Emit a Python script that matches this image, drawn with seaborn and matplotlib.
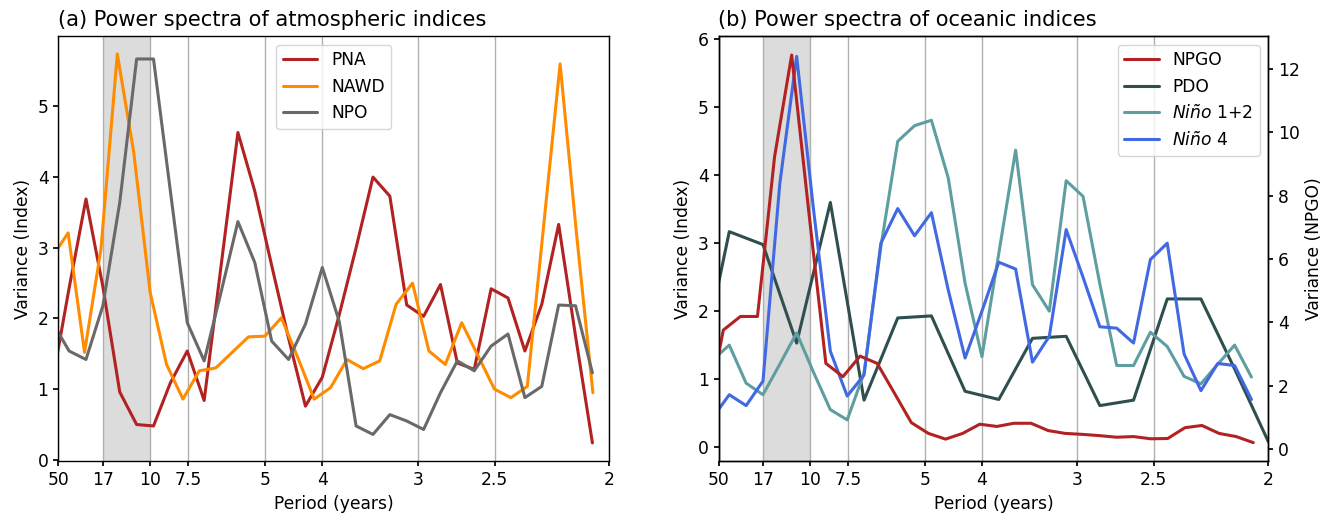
import numpy as np
import pandas as pd
import matplotlib
matplotlib.use("Agg")
import matplotlib.pyplot as plt
import seaborn as sns

# ---------------- data (variance per spectral estimate) ----------------
# record lengths defining the frequency grids (cycles per year = k / N)
n_atm = 68      # PNA, NPO, Nino indices
n_nawd = 70     # NAWD
n_pdo = 34      # PDO (coarser spectrum)
n_npgo = 67     # NPGO
npgo_offset = 0.62

pna = [1.09, 2.43, 3.69, 2.45, 0.96, 0.50, 0.48, 1.09, 1.54, 0.84, 2.74, 4.63,
       3.80, 2.75, 1.72, 0.76, 1.17, 2.05, 3.00, 4.00, 3.73, 2.19, 2.03, 2.48,
       1.37, 1.28, 2.42, 2.29, 1.54, 2.20, 3.33, 1.75, 0.24]
nawd = [2.86, 3.21, 1.52, 2.98, 5.74, 4.35, 2.37, 1.35, 0.86, 1.26, 1.30, 1.52,
        1.74, 1.75, 2.01, 1.45, 0.86, 1.02, 1.42, 1.29, 1.40, 2.20, 2.50, 1.54,
        1.35, 1.94, 1.47, 1.00, 0.88, 1.04, 3.32, 5.60, 3.20, 0.95]
npo = [1.95, 1.54, 1.42, 2.18, 3.64, 5.67, 5.67, 3.80, 1.94, 1.40, 2.37, 3.37,
       2.79, 1.68, 1.42, 1.92, 2.72, 1.96, 0.48, 0.36, 0.64, 0.55, 0.43, 0.95,
       1.40, 1.26, 1.61, 1.78, 0.88, 1.04, 2.19, 2.18, 1.23]

npgo = [0.97, 3.76, 4.19, 4.19, 9.23, 12.44, 7.50, 2.71, 2.29, 2.94, 2.71, 1.78,
        0.84, 0.50, 0.32, 0.50, 0.79, 0.72, 0.82, 0.82, 0.59, 0.50, 0.47, 0.43,
        0.38, 0.40, 0.33, 0.34, 0.68, 0.75, 0.50, 0.40, 0.21]
pdo = [0.79, 3.17, 2.98, 1.53, 3.60, 0.69, 1.90, 1.93, 0.82, 0.70, 1.60, 1.63,
       0.61, 0.69, 2.18, 2.18, 1.15, 0.08]
nino12 = [1.28, 1.50, 0.94, 0.77, 1.22, 1.68, 1.10, 0.55, 0.40, 1.09, 2.95, 4.50,
          4.73, 4.81, 3.96, 2.41, 1.33, 2.85, 4.37, 2.39, 2.00, 3.92, 3.69, 2.40,
          1.20, 1.20, 1.69, 1.48, 1.04, 0.93, 1.22, 1.50, 1.03]
nino4 = [0.43, 0.77, 0.61, 0.97, 3.88, 5.75, 3.50, 1.41, 0.75, 1.06, 3.00, 3.51,
         3.11, 3.45, 2.31, 1.31, 2.00, 2.72, 2.62, 1.25, 1.63, 3.20, 2.50, 1.77,
         1.75, 1.53, 2.76, 3.00, 1.37, 0.83, 1.23, 1.20, 0.70]

period_ticks = [50, 17, 10, 7.5, 5, 4, 3, 2.5, 2]
period_labels = ["50", "17", "10", "7.5", "5", "4", "3", "2.5", "2"]
band_periods = (17, 10)

titles = ["(a) Power spectra of atmospheric indices",
          "(b) Power spectra of oceanic indices"]

# frequency grids
f_atm = np.arange(1, len(pna) + 1) / n_atm
f_nawd = np.arange(1, len(nawd) + 1) / n_nawd
f_oce = np.arange(1, len(nino4) + 1) / n_atm
f_pdo = np.arange(0, len(pdo)) / n_pdo
f_npgo = (np.arange(len(npgo)) + npgo_offset) / n_npgo

# ---------------- style ----------------
sns.set_theme(style="ticks")
FS = 12.3
plt.rcParams.update({
    "font.family": ["DejaVu Sans"],
    "font.size": FS,
    "text.color": "black",
    "axes.labelcolor": "black",
    "axes.titlecolor": "black",
    "axes.edgecolor": "black",
    "axes.linewidth": 1.0,
    "xtick.color": "black",
    "ytick.color": "black",
    "xtick.labelcolor": "black",
    "ytick.labelcolor": "black",
    "legend.labelcolor": "black",
    "xtick.labelsize": FS,
    "ytick.labelsize": FS,
    "axes.labelsize": FS,
    "xtick.major.size": 3.5,
    "ytick.major.size": 3.5,
    "mathtext.fontset": "dejavusans",
})

LW = 2.2
W, H = 1334, 518
fig = plt.figure(figsize=(W / 100, H / 100), dpi=100)
axL = fig.add_axes([58.3 / W, (H - 461.3) / H, (609.3 - 58.3) / W, (461.3 - 36) / H])
axR = fig.add_axes([718.5 / W, (H - 461.3) / H, (1268.3 - 718.5) / W, (461.3 - 36) / H])

xticks = [1.0 / p for p in period_ticks]


def decorate(ax, title):
    ax.axvspan(1.0 / band_periods[0], 1.0 / band_periods[1],
               color="#dcdcdc", zorder=0, lw=0)
    ax.set_xlim(1.0 / 50, 1.0 / 2)
    ax.set_xticks(xticks)
    ax.set_xticklabels(period_labels)
    ax.xaxis.grid(True, color="#b0b0b0", linewidth=1.0, zorder=0.5)
    ax.yaxis.grid(False)
    ax.set_axisbelow(True)
    ax.set_xlabel("Period (years)")
    ax.set_ylabel("Variance (Index)")
    ax.set_title(title, loc="left", fontsize=15.1, pad=7, color="black")


# ---------------- panel (a) ----------------
sns.lineplot(x=f_atm, y=pna, ax=axL, color="firebrick", lw=LW, label="PNA")
sns.lineplot(x=f_nawd, y=nawd, ax=axL, color="darkorange", lw=LW, label="NAWD")
sns.lineplot(x=f_atm, y=npo, ax=axL, color="dimgray", lw=LW, label="NPO")
decorate(axL, titles[0])
axL.set_ylim(-0.02, 5.995)
axL.set_yticks([0, 1, 2, 3, 4, 5])
axL.legend(loc="upper center", fontsize=FS, frameon=True, framealpha=0.8,
           edgecolor="#cccccc", fancybox=True)

# ---------------- panel (b) ----------------
sns.lineplot(x=f_pdo, y=pdo, ax=axR, color="darkslategray", lw=LW, label="PDO")
sns.lineplot(x=f_oce, y=nino12, ax=axR, color="cadetblue", lw=LW,
             label=r"$\mathit{Niño}$ 1+2")
sns.lineplot(x=f_oce, y=nino4, ax=axR, color="royalblue", lw=LW,
             label=r"$\mathit{Niño}$ 4")
decorate(axR, titles[1])
axR.set_ylim(-0.21, 6.05)
axR.set_yticks([0, 1, 2, 3, 4, 5, 6])

axR2 = axR.twinx()
sns.lineplot(x=f_npgo, y=npgo, ax=axR2, color="firebrick", lw=LW, label="NPGO")
axR2.set_ylim(-0.38, 13.04)
axR2.set_yticks([0, 2, 4, 6, 8, 10, 12])
axR2.set_ylabel("Variance (NPGO)", color="black")
axR2.set_xlim(1.0 / 50, 1.0 / 2)
axR.get_legend().remove()
h1, l1 = axR.get_legend_handles_labels()
h2, l2 = axR2.get_legend_handles_labels()
axR2.legend(h2 + h1, l2 + l1, loc="upper right", fontsize=FS, frameon=True,
            framealpha=0.8, edgecolor="#cccccc", fancybox=True)

fig.savefig("out.png", dpi=100)
